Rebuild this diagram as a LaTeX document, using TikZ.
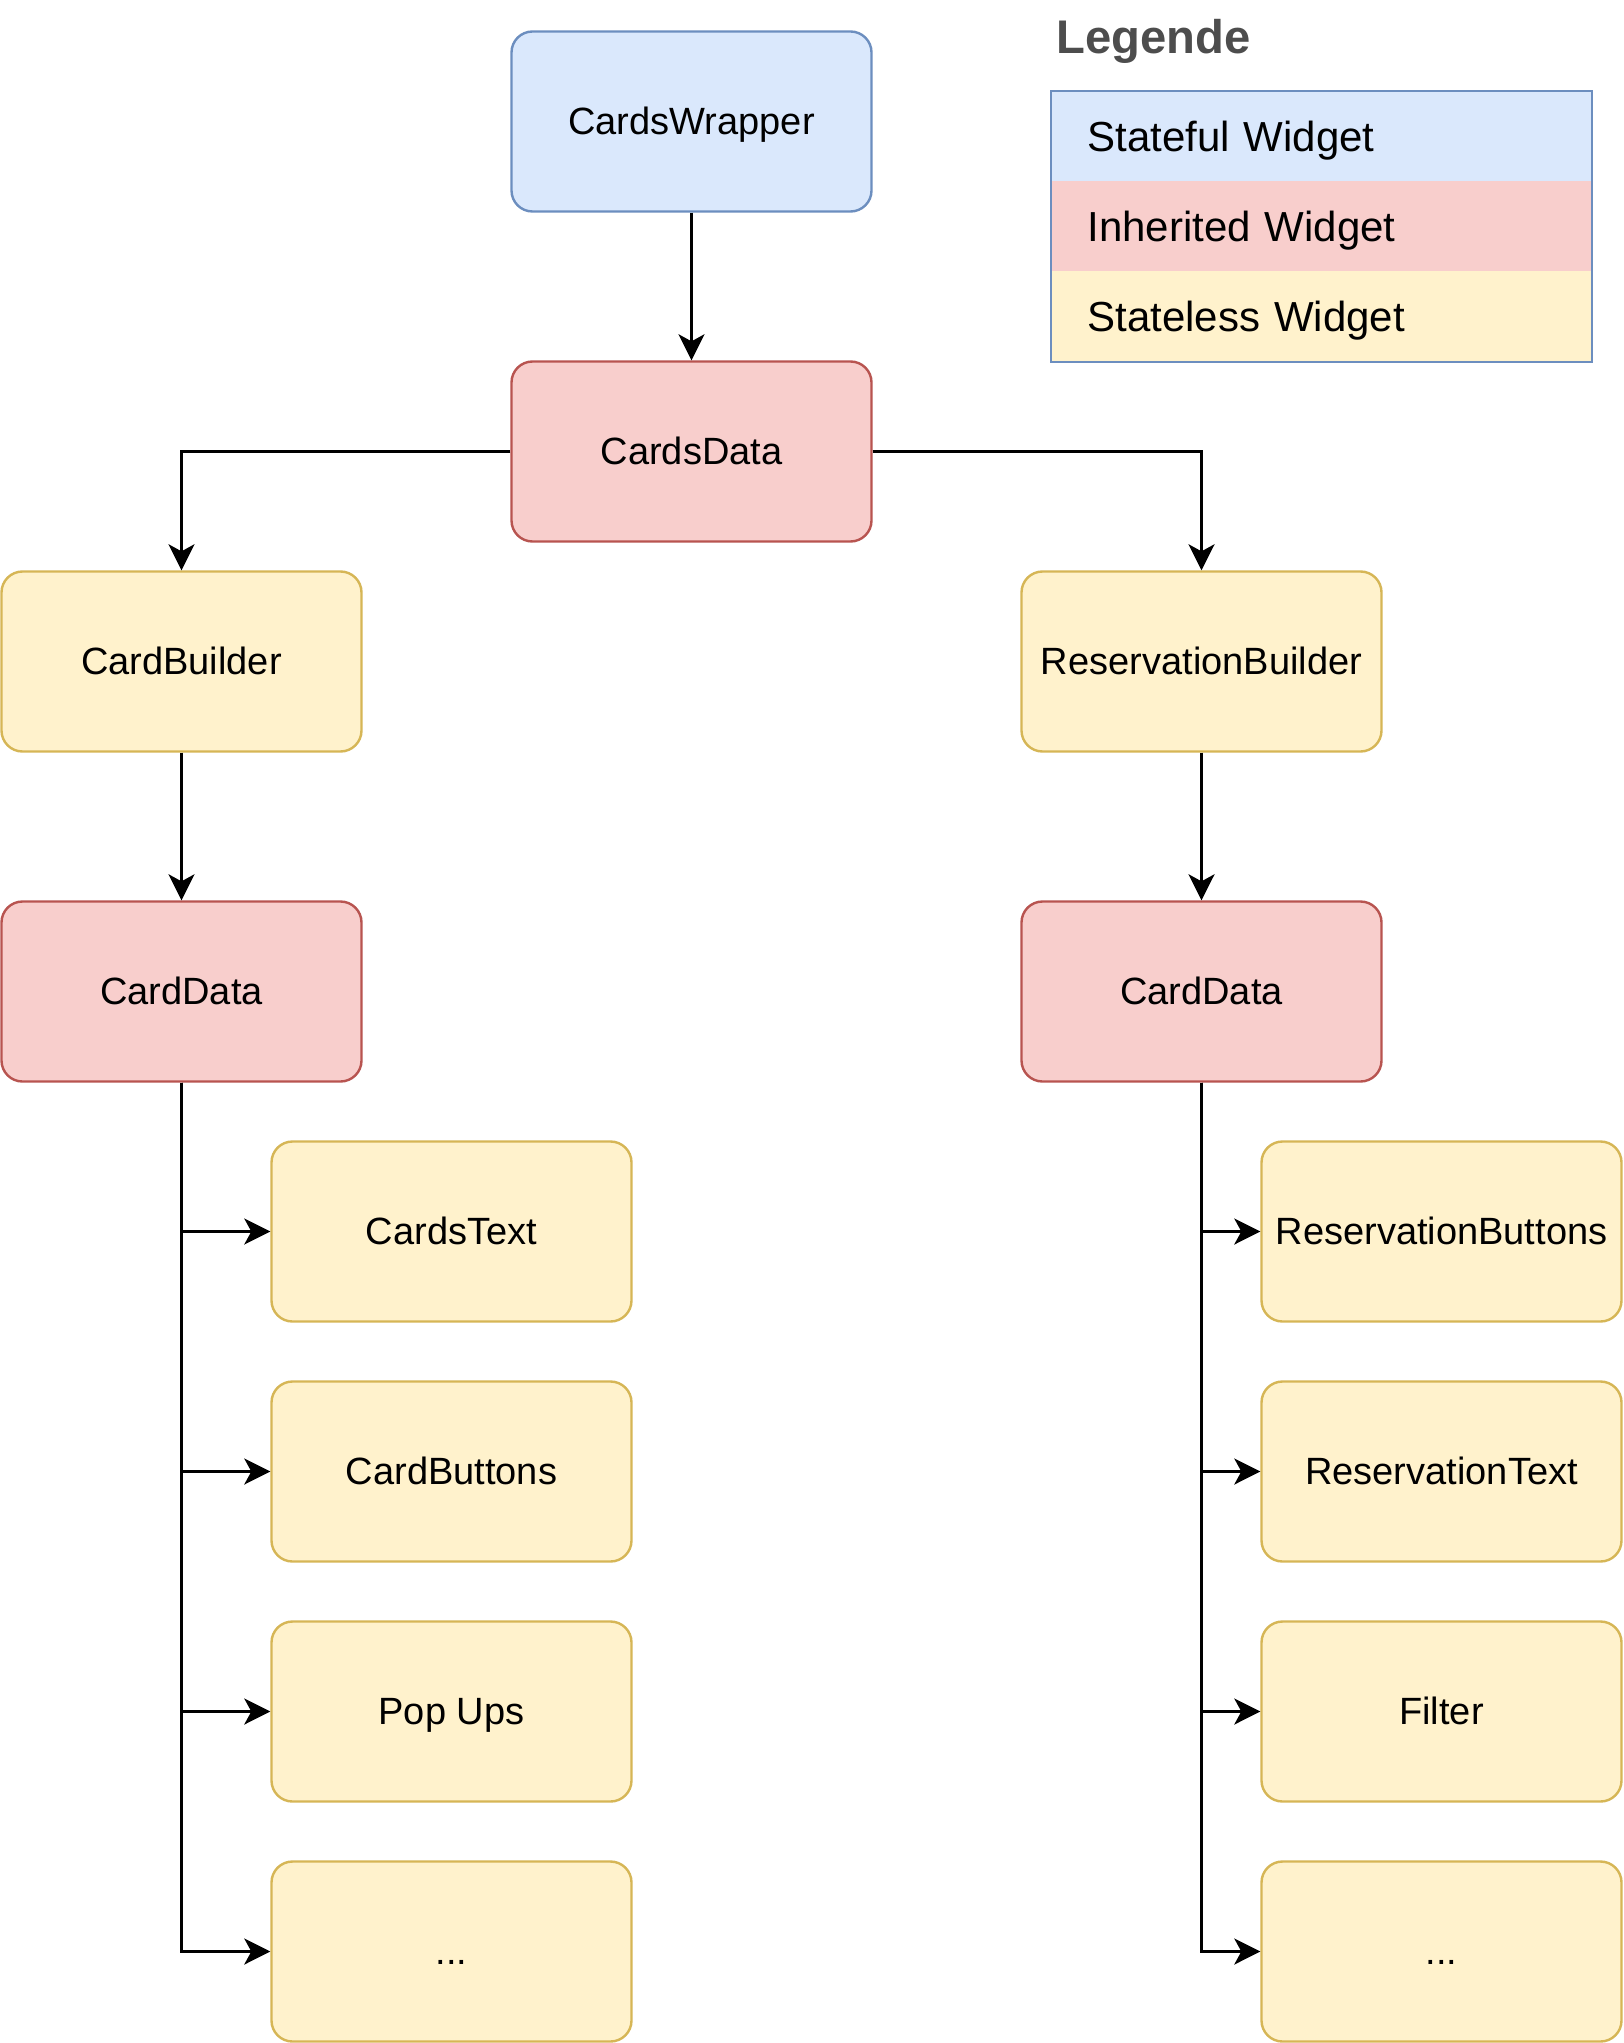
\documentclass[tikz,border=0pt]{standalone}
\usepackage{fontspec}
\setmainfont{Liberation Sans}
\usetikzlibrary{arrows.meta}
\definecolor{bfill}{HTML}{DAE8FC}
\definecolor{bline}{HTML}{6C8EBF}
\definecolor{rfill}{HTML}{F8CECC}
\definecolor{rline}{HTML}{B85450}
\definecolor{yfill}{HTML}{FFF2CC}
\definecolor{yline}{HTML}{D6B656}
\definecolor{titlegray}{HTML}{4D4D4D}
\begin{document}
\begin{tikzpicture}[x=0.5pt,y=-0.5pt,
  box/.style={rectangle, rounded corners=10.5pt, minimum width=180pt, minimum height=90pt,
    inner sep=0pt, line width=1.2pt, font=\fontsize{19}{23}\selectfont,
    text height=16pt, text depth=2.8pt},
  stateful/.style={box, fill=bfill, draw=bline},
  inherited/.style={box, fill=rfill, draw=rline},
  stateless/.style={box, fill=yfill, draw=yline},
  conn/.style={draw=black, line width=1.4pt, -{Stealth[length=13pt,width=13pt,inset=3.5pt]}},
  legrow/.style={rectangle, minimum width=270pt, minimum height=45pt, inner sep=0pt,
    text width=234pt, align=left, font=\fontsize{21}{25}\selectfont,
    text height=17.5pt, text depth=2.9pt},
  legtitle/.style={inner sep=0pt, anchor=base west, text=titlegray,
    font=\fontsize{23.6}{28}\selectfont\bfseries}
]
\fill[white] (0,0) rectangle (1623,2043);
\useasboundingbox (0,0) rectangle (1623,2043);

% main tree
\node[stateful]  (cw)  at (691.5,121.5)  {CardsWrapper};
\node[inherited] (cd)  at (691.5,451.5)  {CardsData};
\node[stateless] (cb)  at (181.5,661.5)  {CardBuilder};
\node[stateless] (rb)  at (1201.5,661.5) {ReservationBuilder};
\node[inherited] (cdl) at (181.5,991.5)  {CardData};
\node[inherited] (cdr) at (1201.5,991.5) {CardData};

\node[stateless] (l1) at (451.5,1231.5) {CardsText};
\node[stateless] (l2) at (451.5,1471.5) {CardButtons};
\node[stateless] (l3) at (451.5,1711.5) {Pop Ups};
\node[stateless] (l4) at (451.5,1951.5) {...};

\node[stateless] (r1) at (1441.5,1231.5) {ReservationButtons};
\node[stateless] (r2) at (1441.5,1471.5) {ReservationText};
\node[stateless] (r3) at (1441.5,1711.5) {Filter};
\node[stateless] (r4) at (1441.5,1951.5) {...};

\draw[conn] (cw) -- (cd);
\draw[conn] (cd.west) -| (cb.north);
\draw[conn] (cd.east) -| (rb.north);
\draw[conn] (cb) -- (cdl);
\draw[conn] (rb) -- (cdr);
\foreach \c in {l1,l2,l3,l4} \draw[conn] (cdl.south) |- (\c.west);
\foreach \c in {r1,r2,r3,r4} \draw[conn] (cdr.south) |- (\c.west);

% legend
\node[legtitle] (lt) at (1056,54) {Legende};
\node[legrow, fill=bfill] (g1) at (1321.5,136.5) {Stateful Widget};
\node[legrow, fill=rfill] (g2) at (1321.5,226.5) {Inherited Widget};
\node[legrow, fill=yfill] (g3) at (1321.5,316.5) {Stateless Widget};
\draw[bline, line width=0.9pt] (g1.north west) rectangle (g3.south east);
\end{tikzpicture}
\end{document}
